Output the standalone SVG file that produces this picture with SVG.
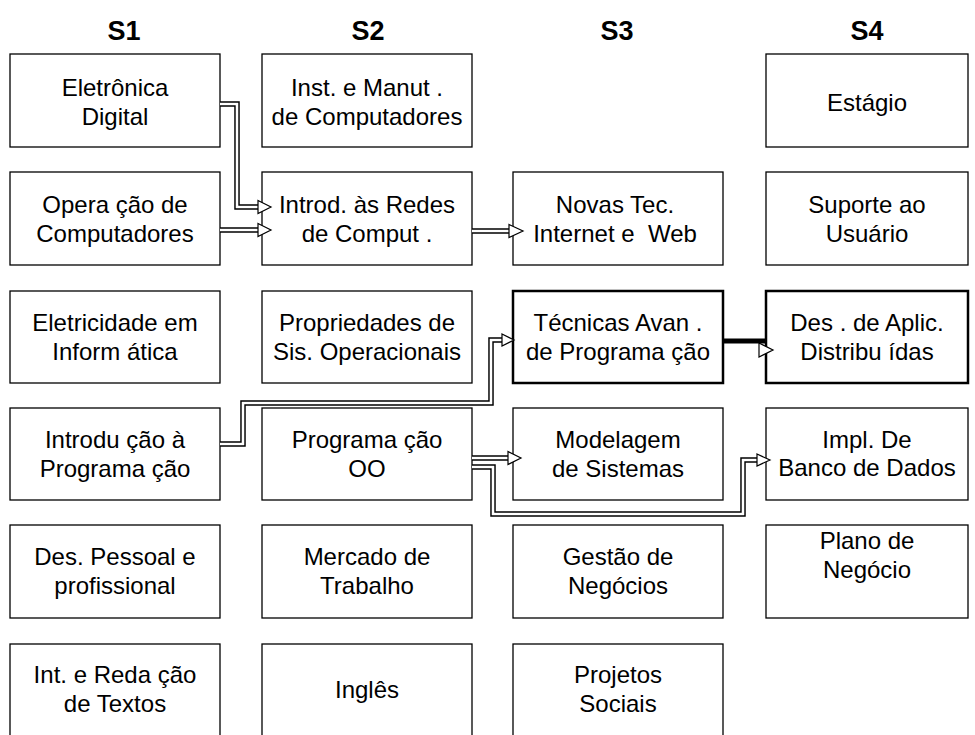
<svg xmlns="http://www.w3.org/2000/svg" width="975" height="735" viewBox="0 0 975 735">
<style>
.b{fill:#fff;stroke:#000;stroke-width:1.3}
.bt{fill:#fff;stroke:#000;stroke-width:2.5}
text{font-family:"Liberation Sans",Arial,sans-serif;font-size:24px;fill:#000;text-anchor:middle}
.h{font-size:27px;font-weight:bold}
.co{fill:none;stroke:#000;stroke-width:5.5;stroke-linejoin:miter}
.ci{fill:none;stroke:#fff;stroke-width:2.6;stroke-linejoin:miter}
.ah{fill:#fff;stroke:#000;stroke-width:1.2}
</style>
<rect width="975" height="735" fill="#fff"/>
<g id="headers">
<text class="h" x="124" y="40">S1</text>
<text class="h" x="368" y="40">S2</text>
<text class="h" x="617" y="40">S3</text>
<text class="h" x="867" y="40">S4</text>
</g>
<g id="n11"><rect class="b" x="10" y="54" width="210" height="93"/><text x="115" y="96">Eletrônica</text><text x="115" y="125">Digital</text></g>
<g id="n12"><rect class="b" x="262" y="54" width="210" height="93"/><text x="367" y="96">Inst. e Manut .</text><text x="367" y="125">de Computadores</text></g>
<g id="n14"><rect class="b" x="766" y="54" width="202" height="93"/><text x="867" y="111">Estágio</text></g>
<g id="n21"><rect class="b" x="10" y="172" width="210" height="93"/><text x="115" y="213">Opera ção de</text><text x="115" y="242">Computadores</text></g>
<g id="n22"><rect class="b" x="262" y="172" width="210" height="93"/><text x="367" y="213">Introd. às Redes</text><text x="367" y="242">de Comput .</text></g>
<g id="n23"><rect class="b" x="513" y="172" width="210" height="93"/><text x="615" y="213">Novas Tec.</text><text x="615" y="242">Internet e&#160; Web</text></g>
<g id="n24"><rect class="b" x="766" y="172" width="202" height="93"/><text x="867" y="213">Suporte ao</text><text x="867" y="242">Usuário</text></g>
<g id="n31"><rect class="b" x="10" y="291" width="210" height="92"/><text x="115" y="331">Eletricidade em</text><text x="115" y="360">Inform ática</text></g>
<g id="n32"><rect class="b" x="262" y="291" width="210" height="92"/><text x="367" y="331">Propriedades de</text><text x="367" y="360">Sis. Operacionais</text></g>
<g id="n33"><rect class="bt" x="513" y="291" width="210" height="92"/><text x="618" y="331">Técnicas Avan .</text><text x="618" y="360">de Programa ção</text></g>
<g id="n34"><rect class="bt" x="766" y="291" width="202" height="92"/><text x="867" y="331">Des . de Aplic.</text><text x="867" y="360">Distribu ídas</text></g>
<g id="n41"><rect class="b" x="10" y="408" width="210" height="92"/><text x="115" y="448">Introdu ção à</text><text x="115" y="477">Programa ção</text></g>
<g id="n42"><rect class="b" x="262" y="408" width="210" height="92"/><text x="367" y="448">Programa ção</text><text x="367" y="477">OO</text></g>
<g id="n43"><rect class="b" x="513" y="408" width="210" height="92"/><text x="618" y="448">Modelagem</text><text x="618" y="477">de Sistemas</text></g>
<g id="n44"><rect class="b" x="766" y="408" width="202" height="92"/><text x="867" y="448">Impl. De</text><text x="867" y="476">Banco de Dados</text></g>
<g id="n51"><rect class="b" x="10" y="525" width="210" height="93"/><text x="115" y="565">Des. Pessoal e</text><text x="115" y="594">profissional</text></g>
<g id="n52"><rect class="b" x="262" y="525" width="210" height="93"/><text x="367" y="565">Mercado de</text><text x="367" y="594">Trabalho</text></g>
<g id="n53"><rect class="b" x="513" y="525" width="210" height="93"/><text x="618" y="565">Gestão de</text><text x="618" y="594">Negócios</text></g>
<g id="n54"><rect class="b" x="766" y="525" width="202" height="93"/><text x="867" y="549">Plano de</text><text x="867" y="578">Negócio</text></g>
<g id="n61"><rect class="b" x="10" y="644" width="210" height="95"/><text x="115" y="683">Int. e Reda ção</text><text x="115" y="712">de Textos</text></g>
<g id="n62"><rect class="b" x="262" y="644" width="210" height="95"/><text x="367" y="698">Inglês</text></g>
<g id="n63"><rect class="b" x="513" y="644" width="210" height="95"/><text x="618" y="683">Projetos</text><text x="618" y="712">Sociais</text></g>
<g id="connectors">
<path class="co" d="M220,104 H237 V207 H259"/><path class="ci" d="M220,104 H237 V207 H258"/>
<polygon class="ah" points="258,200.5 271,207 258,213.5"/>
<path class="co" d="M220,230 H259"/><path class="ci" d="M220,230 H258"/>
<polygon class="ah" points="258,223.5 271,230 258,236.5"/>
<path class="co" d="M472,231 H510"/><path class="ci" d="M472,231 H509"/>
<polygon class="ah" points="509,224.5 523,231 509,237.5"/>
<path class="co" d="M220,444 H243 V403 H491 V340 H503"/><path class="ci" d="M220,444 H243 V403 H491 V340 H502"/>
<polygon class="ah" points="502,334 514,340 502,346"/>
<path class="co" d="M472,458 H509"/><path class="ci" d="M472,458 H508"/>
<polygon class="ah" points="508,451.5 521,458 508,464.5"/>
<path class="co" d="M472,467 H493 V514 H743 V460 H758"/><path class="ci" d="M472,467 H493 V514 H743 V460 H757"/>
<polygon class="ah" points="757,454 770,460 757,466"/>
<line x1="723" y1="341" x2="766" y2="341" stroke="#000" stroke-width="5"/>
<polygon class="ah" points="759,343 773,350 759,357"/>
</g>
</svg>
